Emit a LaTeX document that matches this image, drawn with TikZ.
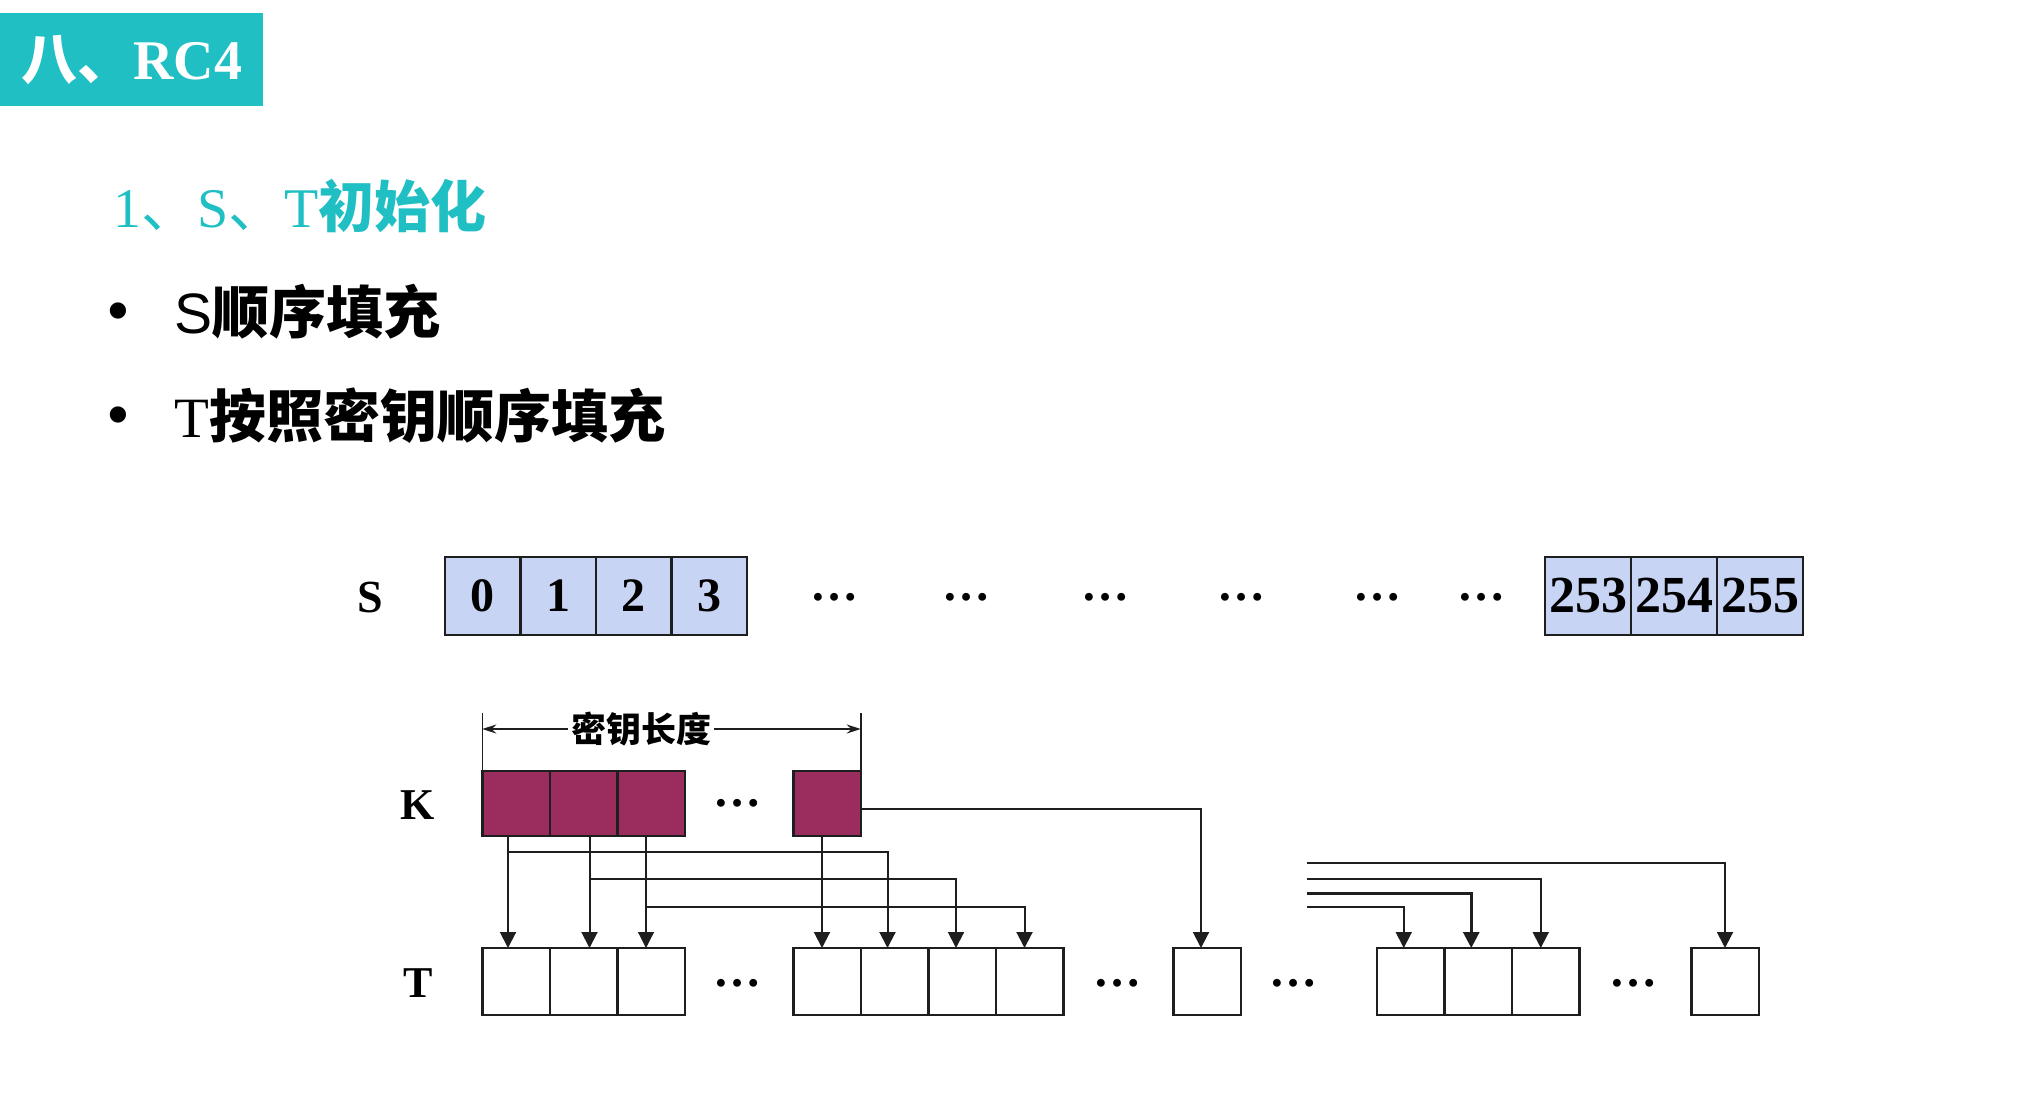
\documentclass[tikz,border=0pt]{standalone}
\usepackage{fontspec}
\setmainfont{Liberation Serif}
\setsansfont{Liberation Sans}
\newfontfamily\cjk{Noto Sans CJK SC}
\usetikzlibrary{arrows.meta,positioning}
\definecolor{headcolor}{RGB}{31,191,196}
\definecolor{linecolor}{RGB}{30,30,30}
\definecolor{scolor}{RGB}{200,212,244}
\definecolor{kcolor}{RGB}{155,44,94}
\newcommand{\fs}[1]{\fontsize{#1}{#1}\selectfont}
\tikzset{
	scell/.style={
		rectangle,
		draw=linecolor,
		line width=2.5pt,
		fill=scolor,
		minimum width=75.5pt,
		minimum height=78pt,
		inner sep=0pt,
		outer sep=0pt,
		font=\fs{48}\bfseries
	},
	bigcell/.style={
		scell,
		minimum width=86pt,
		font=\fs{52}\bfseries
	},
	kcell/.style={
		rectangle,
		draw=linecolor,
		line width=2.5pt,
		fill=kcolor,
		minimum width=67.5pt,
		minimum height=65pt,
		inner sep=0pt,
		outer sep=0pt
	},
	tcell/.style={
		kcell,
		fill=white,
		minimum height=67pt
	},
	rowlabel/.style={
		font=\fs{44}\bfseries,
		inner sep=0pt
	},
	dotrow/.style={
		font=\fs{48}\bfseries,
		inner sep=0pt
	},
	arrow/.style={
		draw=linecolor,
		line width=2pt,
		->,
		>={Triangle[length=16pt,width=16pt]}
	},
	dimarrow/.style={
		draw=linecolor,
		line width=1.5pt,
		<->,
		>={Stealth[length=14pt,width=9pt]}
	},
}

\begin{document}
\begin{tikzpicture}[x=1pt,y=-1pt,node distance=0pt]
	\useasboundingbox (0,0) rectangle (2020,1092);
	% heading and bullets
	\node[fill=headcolor,text=white,minimum width=263pt,minimum height=93pt,inner sep=0pt,anchor=north west] (title) at (0,13) {\fs{56}{\cjk\bfseries 八、}\textbf{RC4}};
	\node[anchor=west,text=headcolor,inner sep=0pt] (sub) at (113,206) {\fs{56}1{\cjk 、}S{\cjk 、}T{\cjk\bfseries 初始化}};
	\node[inner sep=0pt] (b1) at (118,318) {\fs{68}•};
	\node[anchor=west,inner sep=0pt] (fillS) at (174,312) {\fs{57}{\sffamily S}{\cjk\bfseries 顺序填充}};
	\node[inner sep=0pt] (b2) at (118,422) {\fs{68}•};
	\node[anchor=west,inner sep=0pt] (fillT) at (174,416) {\fs{57}T{\cjk\bfseries 按照密钥顺序填充}};
	% S
	\node[rowlabel,font=\fs{46}\bfseries] (lblS) at (370,597) {S};
	\node[scell] (s0) at (482.75,596) {0};
	\node[scell,right=of s0] (s1) {1};
	\node[scell,right=of s1] (s2) {2};
	\node[scell,right=of s2] (s3) {3};
	\foreach \x [count=\i] in {834,966,1105,1241,1377,1481}
		\node[dotrow] (sdot\i) at (\x,597) {…};
	\node[bigcell] (s253) at (1588,596) {253};
	\node[bigcell,right=of s253] (s254) {254};
	\node[bigcell,right=of s254] (s255) {255};
	% K
	\node[rowlabel] (lblK) at (418,805) {K};
	\node[kcell] (k1) at (516,803.5) {};
	\node[kcell,right=of k1] (k2) {};
	\node[kcell,right=of k2] (k3) {};
	\node[dotrow] (kdot) at (737,803) {…};
	\node[kcell] (kn) at (827,803.5) {};
	\coordinate (dimtop) at (0,713);
	\draw[linecolor,line width=1.5pt] (k1.north west) -- (k1.north west |- dimtop);
	\draw[linecolor,line width=1.5pt] (kn.north east) -- (kn.north east |- dimtop);
	\draw[dimarrow] (k1.north west |- 0,729) -- node[pos=0.42,fill=white,inner sep=3pt,font=\fs{35}\cjk\bfseries] (keylen) {密钥长度} (kn.north east |- 0,729);
	% T
	\node[rowlabel] (lblT) at (418,983) {T};
	\node[tcell] (t1) at (516,981.5) {};
	\node[tcell,right=of t1] (t2) {};
	\node[tcell,right=of t2] (t3) {};
	\node[dotrow] (tdot1) at (737,983) {…};
	\node[tcell] (ta) at (827,981.5) {};
	\node[tcell,right=of ta] (tb) {};
	\node[tcell,right=of tb] (tc) {};
	\node[tcell,right=of tc] (td) {};
	\node[dotrow] (tdot2) at (1117,983) {…};
	\node[tcell] (te) at (1207,981.5) {};
	\node[dotrow] (tdot3) at (1293,983) {…};
	\node[tcell] (tf) at (1410.75,981.5) {};
	\node[tcell,right=of tf] (tg) {};
	\node[tcell,right=of tg] (th) {};
	\node[dotrow] (tdot4) at (1633,983) {…};
	\node[tcell] (ti) at (1725,981.5) {};
	% K -> T
	\draw[arrow] ([xshift=-8pt]k1.south) -- ([xshift=-8pt]t1.north);
	\draw[arrow] ([xshift=6pt]k2.south) -- ([xshift=6pt]t2.north);
	\draw[arrow,line width=1.2pt] ([xshift=-5pt]k3.south) -- ([xshift=-5pt]t3.north);
	\draw[arrow] ([xshift=-5pt]kn.south) -- ([xshift=-5pt]ta.north);
	\draw[arrow] ([yshift=-5pt]kn.east) -| ([xshift=-6pt]te.north);
	\draw[arrow] ([xshift=-8pt]k1.south |- 0,852) -| ([xshift=-7pt]tb.north);
	\draw[arrow] ([xshift=6pt]k2.south |- 0,879) -| ([xshift=-6pt]tc.north);
	\draw[arrow] ([xshift=-5pt]k3.south |- 0,907) -| ([xshift=-5pt]td.north);
	\coordinate (feed) at (1307,0);
	\draw[arrow] (feed |- 0,863) -| (ti);
	\draw[arrow] (feed |- 0,879) -| ([xshift=-5pt]th.north);
	\draw[arrow,line width=3pt] (feed |- 0,893) -| ([xshift=-7pt]tg.north);
	\draw[arrow] (feed |- 0,907) -| ([xshift=-7pt]tf.north);
\end{tikzpicture}
\end{document}
